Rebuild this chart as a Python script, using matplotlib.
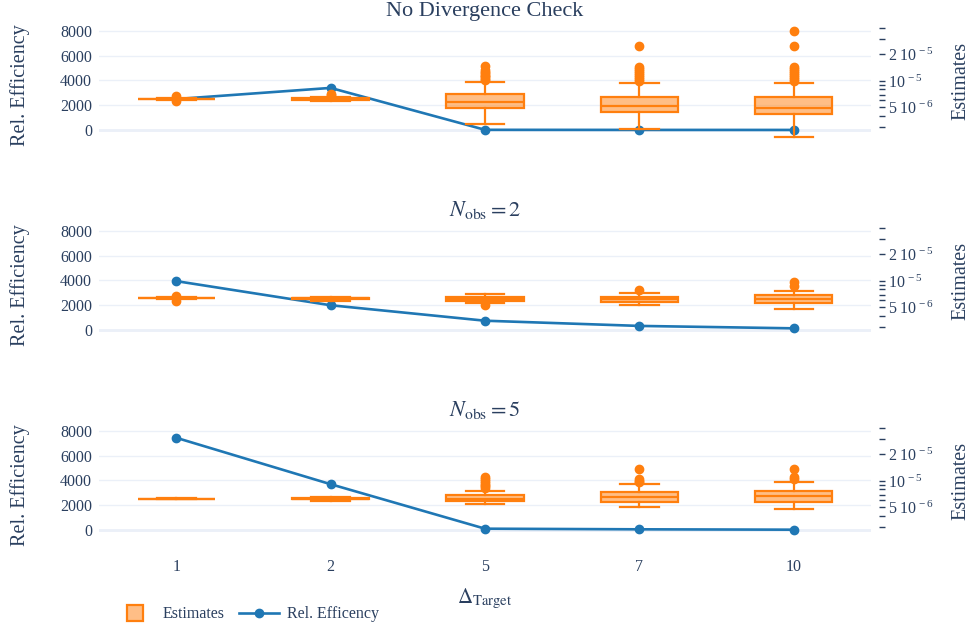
import matplotlib.pyplot as plt
import numpy as np
from matplotlib.lines import Line2D
from matplotlib.ticker import FixedLocator, FixedFormatter, NullLocator

plt.rcParams['font.family'] = ['Liberation Serif', 'DejaVu Serif']
plt.rcParams['mathtext.fontset'] = 'stix'

################################################################################

# COLOURS
BLUE = '#1f77b4'
ORANGE = '#ff7f0e'
ORANGE_FILL = (1.0, 0.498, 0.055, 0.5)
TEXT = '#2a3f5f'
GRID = '#ebf0f8'

################################################################################

deltas = ['1', '2', '5', '7', '10']
titles = ['No Divergence Check', r'$N_{\rm obs} = 2$', r'$N_{\rm obs} = 5$']

# relative efficiency for each target delta
rel_eff_none = [2500, 3400, 15, 8, 5]
rel_eff_n2 = [3950, 2000, 750, 330, 135]
rel_eff_n5 = [7450, 3700, 105, 55, 25]

# estimates (units of 1e-6): quartiles, whisker ends, outliers
none_q1 = [6.20, 6.10, 4.97, 4.48, 4.19]
none_med = [6.24, 6.20, 5.82, 5.24, 4.90]
none_q3 = [6.28, 6.35, 7.11, 6.63, 6.53]
none_lo = [6.15, 5.95, 3.22, 2.83, 2.29]
none_hi = [6.33, 6.55, 9.80, 9.40, 9.40]
none_out = [
    [6.75, 5.90],
    [6.90, 7.05],
    [10.2, 10.6, 11.0, 11.4, 11.8, 12.2, 12.6, 13.2, 14.8],
    [9.9, 10.4, 11.0, 11.6, 12.2, 12.9, 13.6, 14.5, 25.0],
    [10.0, 10.5, 11.0, 11.6, 12.2, 12.9, 13.6, 14.5, 25.0, 37.3],
]

n2_q1 = [6.35, 6.30, 5.93, 5.82, 5.58]
n2_med = [6.40, 6.38, 6.24, 6.24, 6.16]
n2_q3 = [6.45, 6.45, 6.63, 6.63, 6.93]
n2_lo = [6.30, 5.97, 5.58, 5.34, 4.84]
n2_hi = [6.50, 6.53, 7.11, 7.36, 7.76]
n2_out = [[6.67, 5.93], [], [5.27], [7.90], [8.77, 9.70]]

n5_q1 = [6.28, 6.22, 5.93, 5.82, 5.82]
n5_med = [6.30, 6.30, 6.30, 6.50, 6.75]
n5_q3 = [6.32, 6.38, 6.93, 7.56, 7.76]
n5_lo = [6.26, 5.95, 5.48, 5.10, 4.81]
n5_hi = [6.34, 6.65, 7.70, 9.17, 9.80]
n5_out = [[], [], [8.3, 8.7, 9.1, 9.6, 10.1, 10.6, 11.2], [9.7, 10.0, 10.4, 13.6],
          [10.5, 11.0, 13.6]]

est_ticks = [3e-6, 4e-6, 5e-6, 6e-6, 7e-6, 8e-6, 9e-6, 1e-5, 2e-5, 3e-5, 4e-5]
est_tick_labels = ['', '', r'$\mathdefault{5\ 10^{\,-6}}$', '', '', '', '',
                   r'$\mathdefault{10^{\,-5}}$', r'$\mathdefault{2\ 10^{\,-5}}$', '', '']

################################################################################


def box_stats(q1, med, q3, lo, hi, out):
    stats = []
    for i in range(len(q1)):
        stats.append(dict(q1=q1[i] * 1e-6, med=med[i] * 1e-6, q3=q3[i] * 1e-6,
                          whislo=lo[i] * 1e-6, whishi=hi[i] * 1e-6,
                          fliers=np.array(out[i]) * 1e-6))
    return stats


panels = [
    (rel_eff_none, box_stats(none_q1, none_med, none_q3, none_lo, none_hi, none_out)),
    (rel_eff_n2, box_stats(n2_q1, n2_med, n2_q3, n2_lo, n2_hi, n2_out)),
    (rel_eff_n5, box_stats(n5_q1, n5_med, n5_q3, n5_lo, n5_hi, n5_out)),
]

fig = plt.figure(figsize=(9.69, 6.27), dpi=100)
bottoms = [0.77687, 0.45789, 0.13892]
x = np.arange(len(deltas))

for i, (rel_eff, stats) in enumerate(panels):
    ax = fig.add_axes([0.10217, bottoms[i], 0.7967, 0.18756])
    ax.set_xlim(-0.5, 4.5)
    ax.set_ylim(-800, 8700)
    ax.set_yticks([0, 2000, 4000, 6000, 8000])
    ax.grid(True, axis='y', color=GRID, linewidth=1.0)
    ax.set_axisbelow(True)
    ax.axhline(0, color=GRID, linewidth=2.0, zorder=0.5)
    ax.plot(x, rel_eff, color=BLUE, linewidth=1.9, marker='o', markersize=6)
    ax.tick_params(axis='y', length=0, pad=5, labelsize=11.5, labelcolor=TEXT)
    ax.set_xticks(x)
    ax.tick_params(axis='x', length=0, pad=14, labelsize=11.5, labelcolor=TEXT)
    if i == 2:
        ax.set_xticklabels(deltas)
        ax.set_xlabel(r'$\Delta_{\rm Target}$', fontsize=15, color=TEXT, va='top')
        ax.xaxis.set_label_coords(0.5, -0.40)
    else:
        ax.set_xticklabels([])
    ax.set_ylabel('Rel. Efficiency', fontsize=14.5, color=TEXT)
    ax.yaxis.set_label_coords(-0.09, 0.47)
    ax.text(0.5, 1.01, titles[i], transform=ax.transAxes, ha='center', va='bottom',
            fontsize=16, color=TEXT)

    ax2 = ax.twinx()
    ax2.set_yscale('log')
    ax2.set_ylim(2.14e-6, 4.64e-5)
    ax2.bxp(stats, positions=x, widths=0.5, capwidths=0.25, patch_artist=True,
            manage_ticks=False,
            boxprops=dict(facecolor=ORANGE_FILL, edgecolor=ORANGE, linewidth=1.6),
            whiskerprops=dict(color=ORANGE, linewidth=1.6),
            capprops=dict(color=ORANGE, linewidth=1.6),
            medianprops=dict(color=ORANGE, linewidth=1.6),
            flierprops=dict(marker='o', markerfacecolor=ORANGE, markeredgecolor=ORANGE,
                            markersize=6))
    ax2.yaxis.set_major_locator(FixedLocator(est_ticks))
    ax2.yaxis.set_major_formatter(FixedFormatter(est_tick_labels))
    ax2.yaxis.set_minor_locator(NullLocator())
    ax2.spines['right'].set_position(('outward', 6))
    ax2.tick_params(axis='y', length=4.5, width=1, color=TEXT, pad=2,
                    labelsize=11.5, labelcolor=TEXT)
    ax2.set_ylabel('Estimates', fontsize=14.5, color=TEXT)
    ax2.yaxis.set_label_coords(1.104, 0.5)

    for a in (ax, ax2):
        for s in a.spines.values():
            s.set_visible(False)

handles = [
    Line2D([], [], linestyle='none', marker='s', markersize=12,
           markerfacecolor=ORANGE_FILL, markeredgecolor=ORANGE, markeredgewidth=1.6),
    Line2D([], [], color=BLUE, linewidth=1.9, marker='o', markersize=6),
]
fig.legend(handles, ['Estimates', 'Rel. Efficency'], loc='center left',
           bbox_to_anchor=(0.104, 0.02), ncol=2, frameon=False, fontsize=11.5,
           handlelength=2.5, handletextpad=0.5, columnspacing=0.9, labelcolor=TEXT)

fig.savefig('out.png', dpi=100)
